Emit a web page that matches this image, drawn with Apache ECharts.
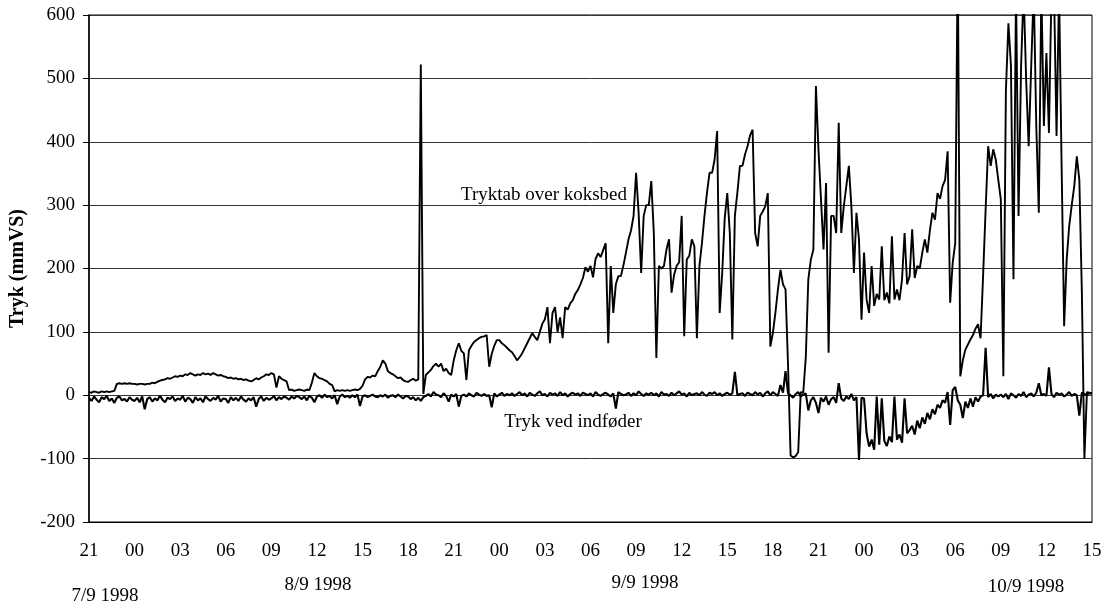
<!DOCTYPE html>
<html>
<head>
<meta charset="utf-8">
<script src="https://cdn.jsdelivr.net/npm/echarts@6/dist/echarts.min.js"></script>
<style>
  html, body { margin: 0; padding: 0; background: #fff; }
  #chart { width: 1105px; height: 605px; }
</style>
</head>
<body>
<div id="chart"></div>
<script>
// Logged pressures, one sample every 10 minutes from 7/9 1998 21:00 (mmVS)
const SAMPLES_PER_HOUR = 6;

// Tryktab over koksbed
const koksbed = [
  5,4,6,5,4,6,  5,6,5,6,7,18,  19,18,19,18,19,18,  18,17,18,18,17,18,
  18,20,19,21,23,24,  25,27,26,28,30,29,  31,30,33,32,35,33,  31,33,32,35,33,34,
  32,35,33,31,32,30,  29,27,28,26,27,25,  26,24,25,23,22,24,  27,25,28,30,33,32,
  35,33,12,30,26,24,  22,8,9,7,8,9,  8,7,9,8,20,35,  30,27,26,24,22,18,
  16,6,8,7,8,7,  8,7,8,9,8,10,  15,25,29,28,31,30,  38,45,55,50,38,35,
  33,30,27,28,24,22,  21,24,26,23,25,522,  2,32,36,40,46,50,  45,50,38,42,35,32,
  55,71,82,70,66,24,  71,78,84,87,90,92,  93,95,45,65,78,87,  87,82,79,75,71,68,
  62,55,60,66,74,82,  90,98,92,87,100,113,  120,139,82,130,139,100,  123,90,139,135,145,150,
  160,166,175,185,202,195,  204,186,215,224,218,229,  240,82,204,130,175,188,  188,205,225,246,260,283,
  351,288,193,283,300,300,  338,256,59,204,200,204,  230,246,162,190,204,210,  283,93,214,220,246,235,
  90,204,240,283,320,351,  351,372,417,130,193,280,  319,256,88,283,320,362,  362,380,393,410,419,256,
  235,283,290,298,319,77,  98,130,167,198,175,167,  46,-95,-98,-96,-90,5,  4,60,183,214,230,488,
  388,309,230,335,67,283,  283,256,430,256,298,330,  362,298,193,288,246,119,  225,151,130,204,141,160,
  151,235,150,162,145,251,  151,167,150,183,256,175,  188,262,185,204,200,225,  246,225,260,288,277,319,
  310,330,340,385,146,209,  240,700,30,55,72,80,  88,95,105,112,90,188,  293,393,362,388,372,340,
  309,30,480,587,520,183,  640,283,519,640,498,393,  519,640,425,288,640,425,  540,414,640,640,409,640,
  362,109,214,267,300,330,  377,340,162,-100,5,4,  3
];

// Tryk ved indføder
const indfoder = [
  -4,-9,-2,-7,-11,-3,  -6,-1,-9,-5,-12,-4,  -2,-8,-6,-10,-3,-7,  -9,-4,-11,-2,-22,-6,
  -3,-10,-5,-8,-1,-7,  -11,-4,-6,-2,-9,-5,  -7,-1,-10,-4,-6,-12,  -3,-8,-5,-11,-2,-6,
  -9,-4,-7,-1,-10,-5,  -6,-12,-3,-8,-4,-9,  -2,-7,-10,-5,-8,-3,  -18,-6,-2,-9,-4,-7,
  -5,-1,-8,-3,-6,-2,  -4,-7,-2,-5,-1,-3,  -6,-2,-8,-1,-4,-11,  -2,0,-4,1,-3,-1,
  -5,0,-14,-2,1,-3,  -1,-4,0,-3,1,-17,  -2,0,-3,-1,1,-2,  -3,0,-2,1,-4,-1,
  0,-3,1,-2,-5,-1,  -2,-6,-3,-8,-4,-9,  -3,-1,2,-2,5,1,  0,-3,3,-1,-10,1,
  -2,2,-18,-1,1,-2,  3,0,-2,4,1,-1,  2,-1,0,-19,3,-2,  1,4,-1,2,0,3,
  -1,2,5,0,3,-2,  4,1,-1,3,6,0,  2,-2,4,1,3,-1,  5,0,3,-2,2,4,
  1,3,-1,4,2,0,  3,-2,5,1,-1,2,  4,1,-2,3,-21,5,  2,0,1,4,-1,3,
  0,6,2,-1,3,1,  4,0,3,-2,5,1,  2,-1,4,0,3,6,  1,3,-2,4,0,2,
  3,0,5,1,-1,4,  2,5,0,3,-1,2,  4,1,3,37,0,2,  3,-1,4,2,0,5,
  1,4,-2,3,6,0,  5,2,-1,16,4,38,  3,0,-4,2,5,-2,  1,3,-24,-8,-3,-12,
  -28,-4,-10,-2,-15,-6,  -3,-12,19,-5,-9,-2,  -6,2,-8,-3,-102,-4,  -5,-60,-81,-70,-86,-2,
  -78,-5,-72,-80,-65,-74,  -2,-70,-62,-75,-5,-60,  -55,-48,-62,-40,-52,-35,  -45,-28,-38,-22,-30,-15,
  -20,-8,-12,5,-47,8,  13,-8,-15,-36,-10,-20,  -5,-18,-3,-10,-2,0,  75,-3,2,-5,1,-2,
  1,-3,2,-6,3,0,  -4,2,-1,5,-3,1,  3,-2,4,19,0,2,  -1,44,2,-3,4,1,
  3,-2,1,5,-1,2,  0,-32,4,2,1,3,  3
];

// Clock-hour labels every 3 hours, 7/9 21:00 to 10/9 15:00
const hourLabels = ['21','00','03','06','09','12','15','18','21','00','03','06','09','12','15','18','21','00','03','06','09','12','15'];
const dateLabels = ['7/9 1998', '8/9 1998', '9/9 1998', '10/9 1998'];
const seriesNames = ['Tryktab over koksbed', 'Tryk ved indføder'];

const toPairs = arr => arr.map((v, i) => [i / SAMPLES_PER_HOUR, v]);
const FONT = '"Liberation Serif", "Times New Roman", serif';
const textEl = (text, x, y) => ({
  type: 'text', x: x, y: y,
  style: { text: text, font: '19px ' + FONT, fill: '#000', align: 'center', verticalAlign: 'middle' }
});

const chart = echarts.init(document.getElementById('chart'), null, { renderer: 'canvas' });
chart.setOption({
  animation: false,
  backgroundColor: '#fff',
  grid: { left: 87, right: 13, top: 15, bottom: 83, show: true, borderColor: '#000', borderWidth: 1, backgroundColor: 'transparent' },
  xAxis: {
    type: 'value', min: 0, max: 66, interval: 3,
    axisLine: { onZero: false, lineStyle: { color: '#000', width: 1 } },
    axisTick: { show: false },
    splitLine: { show: false },
    axisLabel: {
      margin: 20, color: '#000', fontFamily: FONT, fontSize: 19,
      formatter: v => hourLabels[Math.round(v / 3)]
    }
  },
  yAxis: {
    type: 'value', min: -200, max: 600, interval: 100,
    name: 'Tryk (mmVS)', nameLocation: 'middle', nameGap: 61,
    nameTextStyle: { color: '#000', fontFamily: FONT, fontSize: 20, fontWeight: 'bold' },
    axisLine: { show: true, lineStyle: { color: '#000', width: 1.5 } },
    axisTick: { show: true, inside: false, length: 6, lineStyle: { color: '#000' } },
    splitLine: { show: true, lineStyle: { color: '#333', width: 1 } },
    axisLabel: { margin: 14, color: '#000', fontFamily: FONT, fontSize: 19 }
  },
  series: [
    {
      name: seriesNames[0], type: 'line', data: toPairs(koksbed),
      showSymbol: false, clip: true,
      lineStyle: { color: '#000', width: 1.9 }, z: 3
    },
    {
      name: seriesNames[1], type: 'line', data: toPairs(indfoder),
      showSymbol: false, clip: true,
      lineStyle: { color: '#000', width: 2.1 }, z: 3
    }
  ],
  graphic: [
    textEl(seriesNames[0], 544, 195),
    textEl(seriesNames[1], 573, 422),
    textEl(dateLabels[0], 105, 596),
    textEl(dateLabels[1], 318, 585),
    textEl(dateLabels[2], 645, 583),
    textEl(dateLabels[3], 1026, 587)
  ]
});
</script>
</body>
</html>
